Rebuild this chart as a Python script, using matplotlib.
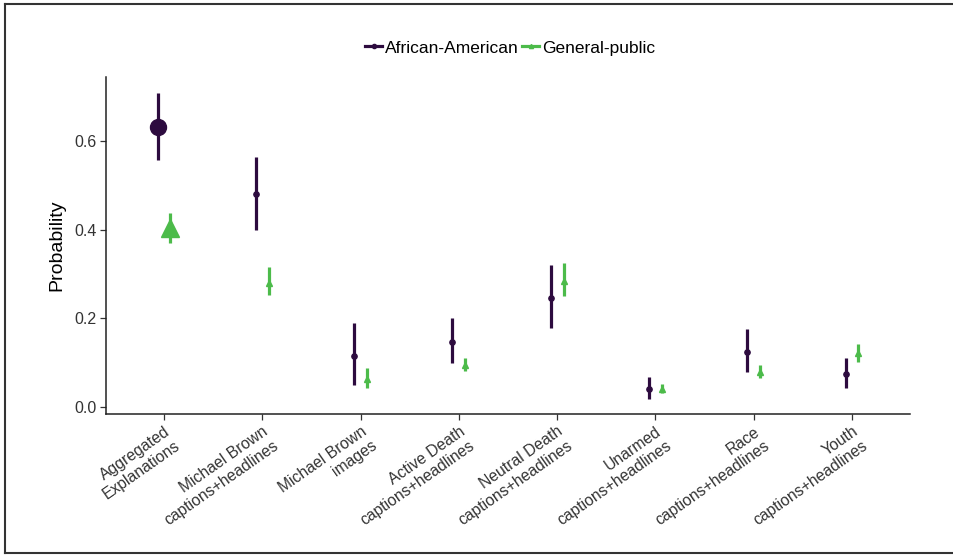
import matplotlib
matplotlib.use("Agg")
import matplotlib.pyplot as plt
import numpy as np
from matplotlib.lines import Line2D
import matplotlib.transforms as mtransforms

plt.rcParams['font.family'] = ['Liberation Sans', 'DejaVu Sans']

categories = ["Aggregated\nExplanations", "Michael Brown\ncaptions+headlines",
              "Michael Brown\nimages", "Active Death\ncaptions+headlines",
              "Neutral Death\ncaptions+headlines", "Unarmed\ncaptions+headlines",
              "Race\ncaptions+headlines", "Youth\ncaptions+headlines"]

aa_mean = [0.632, 0.480, 0.115, 0.147, 0.246, 0.041, 0.124, 0.074]
aa_low  = [0.557, 0.400, 0.050, 0.100, 0.178, 0.018, 0.079, 0.043]
aa_high = [0.708, 0.564, 0.190, 0.201, 0.320, 0.068, 0.176, 0.110]

gp_mean = [0.404, 0.280, 0.063, 0.095, 0.284, 0.040, 0.079, 0.122]
gp_low  = [0.370, 0.253, 0.043, 0.080, 0.250, 0.031, 0.065, 0.102]
gp_high = [0.438, 0.316, 0.088, 0.111, 0.325, 0.052, 0.095, 0.142]

aa_color = "#2D0B3F"
gp_color = "#4CBB4A"

fig = plt.figure(figsize=(9.54, 5.55), dpi=100)
ax = fig.add_axes([106/954, 1-414/555, (910-106)/954, (414-77)/555])

x = np.arange(1, len(categories) + 1)
off = 0.065

for i, xi in enumerate(x):
    big = (i == 0)
    ax.plot([xi - off, xi - off], [aa_low[i], aa_high[i]], color=aa_color, lw=2.3, solid_capstyle='butt', zorder=2)
    ax.plot([xi + off, xi + off], [gp_low[i], gp_high[i]], color=gp_color, lw=2.3, solid_capstyle='butt', zorder=2)
    ax.plot(xi - off, aa_mean[i], marker='o', color=aa_color, ms=11.5 if big else 3.8, ls='none', zorder=3)
    ax.plot(xi + off, gp_mean[i], marker='^', color=gp_color, ms=13 if big else 4.5, ls='none', zorder=3)

ax.set_xlim(0.41, 8.59)
ax.set_ylim(-0.016, 0.744)
ax.set_yticks([0.0, 0.2, 0.4, 0.6])
ax.set_yticklabels(["0.0", "0.2", "0.4", "0.6"])
ax.set_xticks(x)
ax.set_xticklabels(categories, rotation=35, ha='right', va='top', rotation_mode='anchor',
                   multialignment='right', fontsize=11.3, color='#333333', linespacing=1.2)
shift = mtransforms.ScaledTranslation(7/100, 0, fig.dpi_scale_trans)
for lab in ax.get_xticklabels():
    lab.set_transform(lab.get_transform() + shift)
ax.tick_params(axis='y', labelsize=11.5, colors='#333333', length=4, width=0.9, pad=3)
ax.tick_params(axis='x', length=4, width=0.9, colors='#333333', pad=3)
ax.set_ylabel("Probability", fontsize=14, color='black')
ax.yaxis.set_label_coords(-(106-65)/804, 0.5)
for s in ['top', 'right']:
    ax.spines[s].set_visible(False)
for s in ['left', 'bottom']:
    ax.spines[s].set_linewidth(1.1)
    ax.spines[s].set_color('#222222')

handles = [Line2D([0], [0], color=aa_color, lw=2.3, marker='o', ms=3),
           Line2D([0], [0], color=gp_color, lw=2.3, marker='^', ms=3)]
fig.legend(handles, ["African-American", "General-public"], loc='center',
           bbox_to_anchor=(510/954, 1-48/555), ncol=2, frameon=False,
           fontsize=12.5, handlelength=1.0, handletextpad=0.15, columnspacing=0.2)

# page border (left, top, bottom only)
bx0, by0, by1 = 5/954, 2.5/555, 1 - 4/555
for xs, ys in [([bx0, bx0], [by0, by1]), ([bx0, 1.0], [by1, by1]), ([bx0, 1.0], [by0, by0])]:
    fig.add_artist(Line2D(xs, ys, transform=fig.transFigure, color='#333333', lw=1.5))

fig.savefig("out.png", dpi=100)
